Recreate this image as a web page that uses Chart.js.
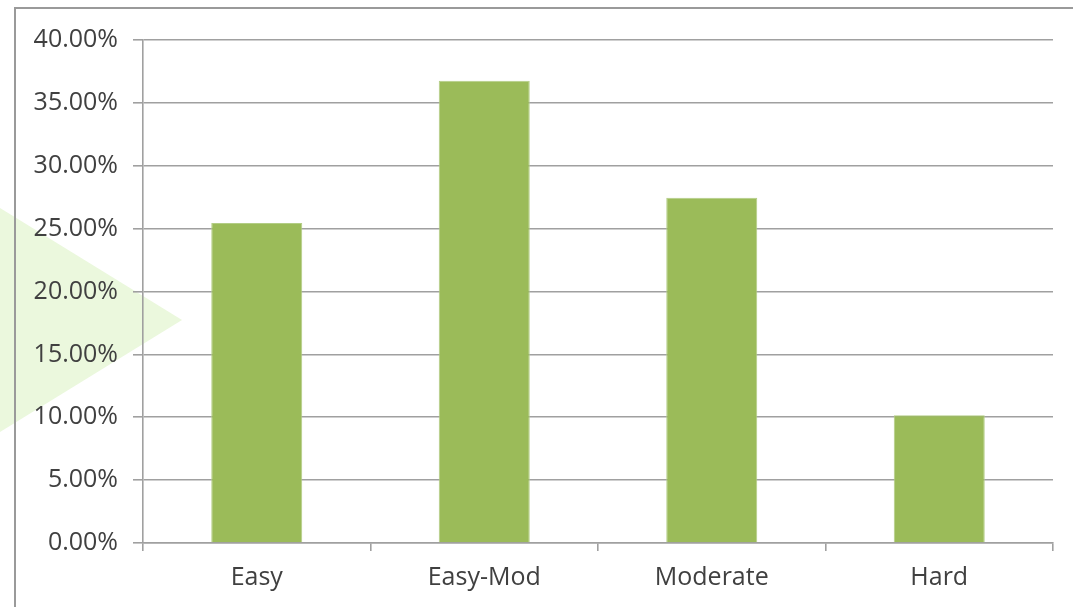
<!DOCTYPE html>
<html>
<head>
<meta charset="utf-8">
<script src="https://cdn.jsdelivr.net/npm/chart.js@4/dist/chart.umd.min.js"></script>
<style>
  html, body { margin: 0; padding: 0; background: #ffffff; }
  #wrap { width: 1073px; height: 607px; position: relative; }
</style>
</head>
<body>
<div id="wrap"><canvas id="c" width="1073" height="607"></canvas></div>
<script>
const categories = ['Easy', 'Easy-Mod', 'Moderate', 'Hard'];
const shares = [25.45, 36.75, 27.45, 10.15];
const yMin = 0;
const yMax = 40;
const yStep = 5;

const decor = {
  id: 'decor',
  beforeDraw(chart) {
    const ctx = chart.ctx;
    ctx.save();
    ctx.fillStyle = '#ffffff';
    ctx.fillRect(0, 0, chart.width, chart.height);
    ctx.fillStyle = '#ebf8dd';
    ctx.beginPath();
    ctx.moveTo(0, 208);
    ctx.lineTo(182, 320);
    ctx.lineTo(0, 432);
    ctx.closePath();
    ctx.fill();
    ctx.restore();
  },
  afterDraw(chart) {
    const ctx = chart.ctx;
    ctx.save();
    ctx.strokeStyle = '#9a9a9a';
    ctx.lineWidth = 2;
    ctx.beginPath();
    ctx.moveTo(15, chart.height + 5);
    ctx.lineTo(15, 8);
    ctx.lineTo(chart.width + 5, 8);
    ctx.stroke();
    ctx.restore();
  }
};

new Chart(document.getElementById('c'), {
  type: 'bar',
  data: {
    labels: categories,
    datasets: [{
      data: shares,
      backgroundColor: '#9bbb59',
      borderColor: '#b3cd85',
      borderWidth: 1,
      categoryPercentage: 1.0,
      barPercentage: 0.4
    }]
  },
  options: {
    responsive: false,
    animation: false,
    devicePixelRatio: 1,
    layout: { padding: { left: 0, right: 20, top: 40, bottom: 0 } },
    plugins: { legend: { display: false }, tooltip: { enabled: false } },
    scales: {
      x: {
        grid: { display: true, drawOnChartArea: false, offset: true, tickLength: 8, color: '#a0a0a0', lineWidth: 1.6 },
        border: { display: true, color: '#a0a0a0', width: 1.6 },
        ticks: { color: '#404040', font: { family: 'Open Sans', size: 25 }, padding: 12 },
        afterFit(scale) { scale.height = 64; }
      },
      y: {
        min: yMin,
        max: yMax,
        grid: { color: '#a0a0a0', lineWidth: 1.6, tickLength: 10 },
        border: { display: true, color: '#a0a0a0', width: 1.6 },
        ticks: {
          stepSize: yStep,
          color: '#404040',
          font: { family: 'Open Sans', size: 25 },
          padding: 15,
          callback: v => v.toFixed(2) + '%'
        },
        afterFit(scale) { scale.width = 143; }
      }
    }
  },
  plugins: [decor]
});
</script>
</body>
</html>
